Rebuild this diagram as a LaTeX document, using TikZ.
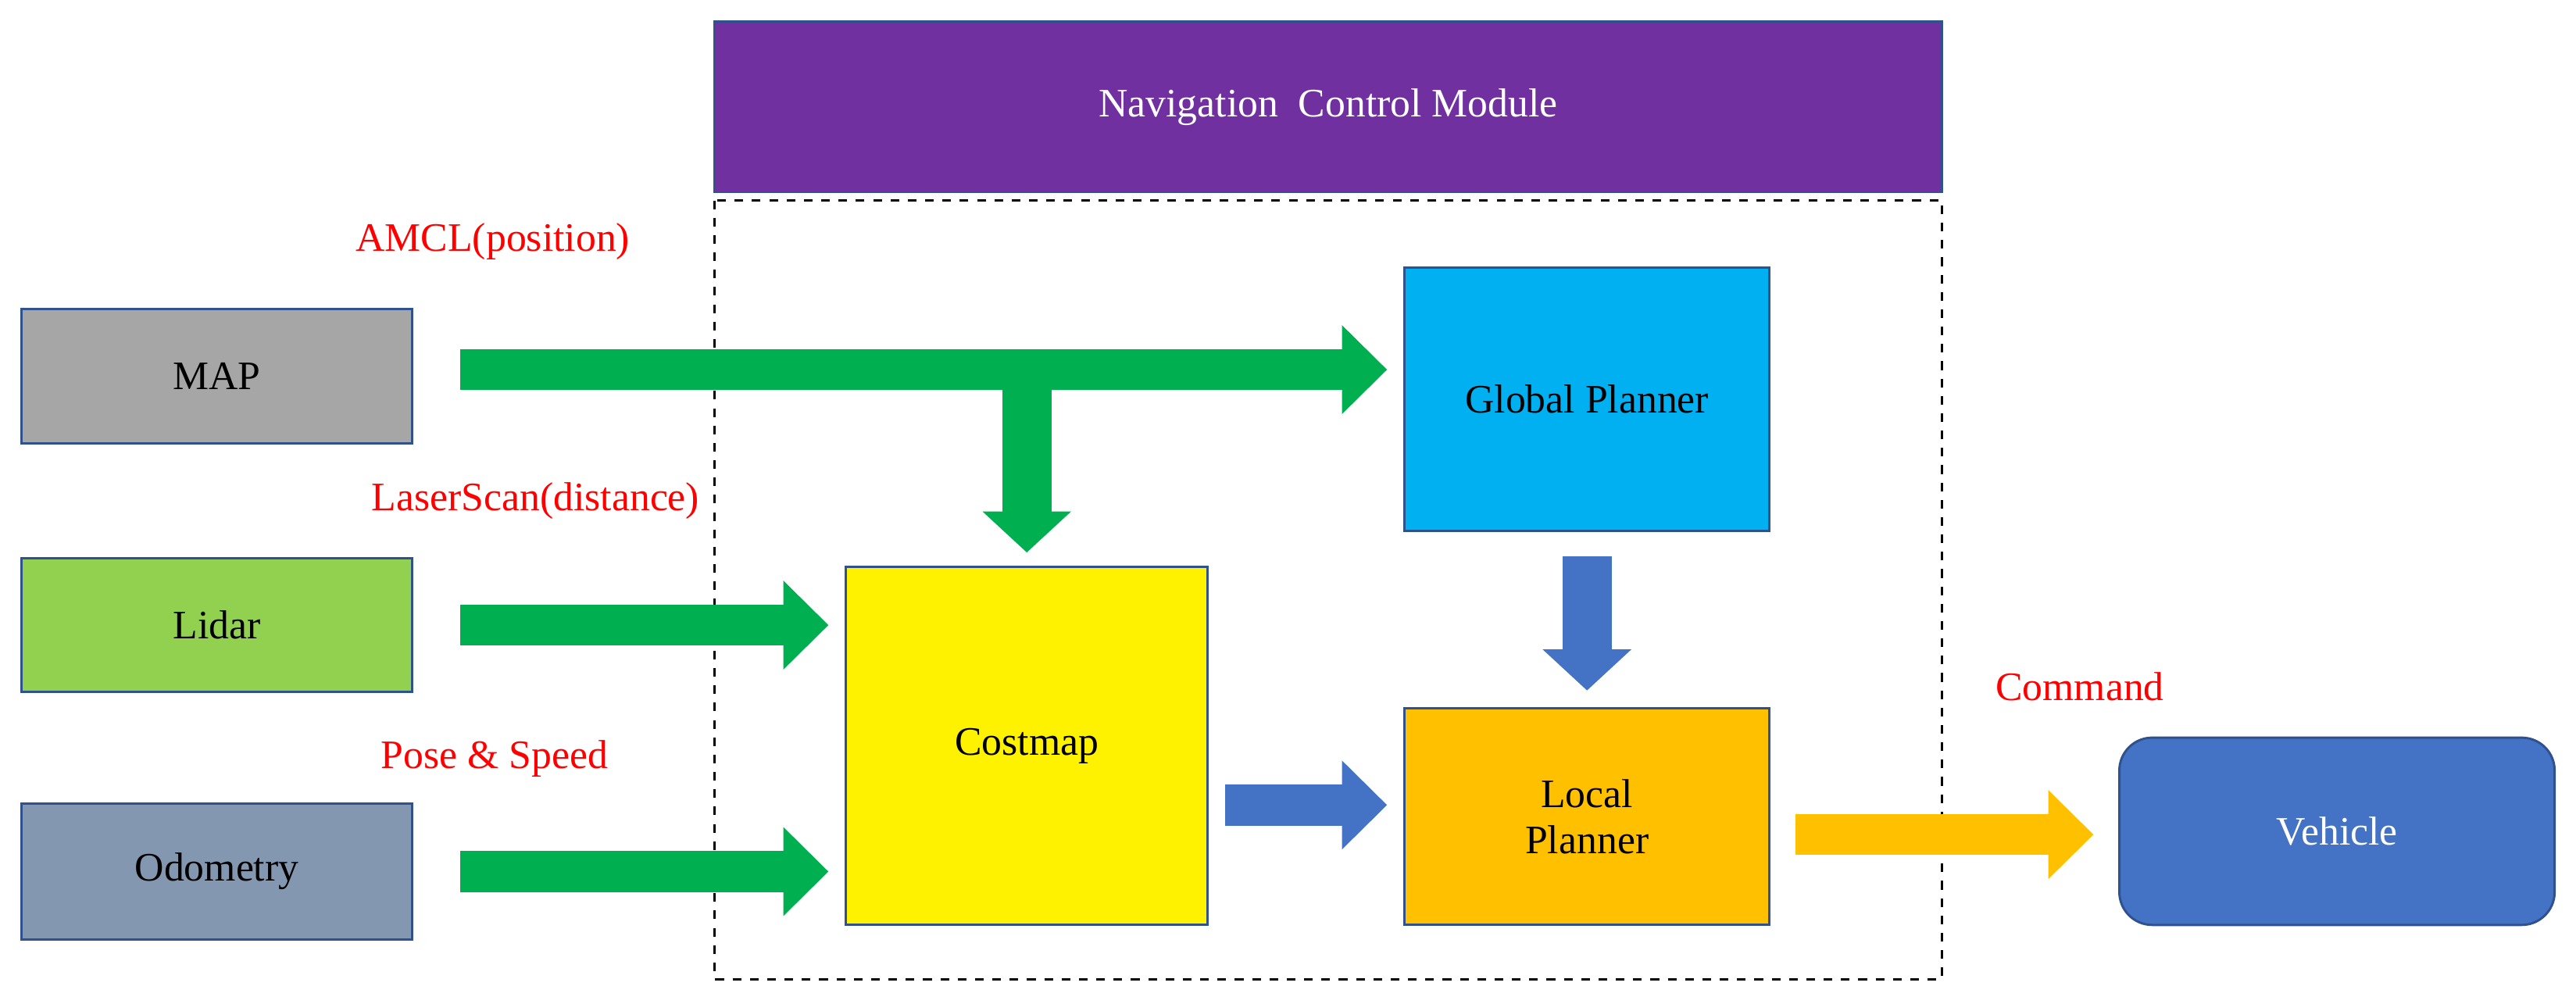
\documentclass[tikz,border=0pt]{standalone}
\usepackage{fontspec}
\setmainfont{Liberation Serif}
\usetikzlibrary{arrows.meta,positioning,calc}
\definecolor{navpurple}{HTML}{7030A0}
\definecolor{mapgray}{HTML}{A6A6A6}
\definecolor{lidargreen}{HTML}{92D050}
\definecolor{odomblue}{HTML}{8497B0}
\definecolor{globalblue}{HTML}{00B0F0}
\definecolor{localorange}{HTML}{FFC000}
\definecolor{vehblue}{HTML}{4472C4}
\definecolor{arrowgreen}{HTML}{00B050}
\definecolor{edgeblue}{HTML}{2F528F}
\begin{document}
\begin{tikzpicture}[x=0.02cm,y=-0.02cm]
    \tikzstyle{every node}=[font=\fontsize{14}{16}\selectfont]
    \tikzstyle{block}=[draw=edgeblue,line width=0.8pt,inner sep=0pt,align=center]
    \tikzstyle{lbl}=[text=red]
    \tikzstyle{fat}=[line width=0.5cm,-{Triangle[length=0.55cm,width=1.05cm]}]
    \tikzstyle{fatv}=[line width=0.6cm,-{Triangle[length=0.5cm,width=1.05cm]}]
    \useasboundingbox (0,0) rectangle (1568,611);

% Module
\node[block,fill=navpurple,text=white,minimum width=14.94cm,minimum height=2.08cm] (nav) at (808.5,65) {Navigation\ \ Control Module};
\draw[dashed,line width=0.8pt] (435,122) rectangle (1182,596);

% Entrees
\node[block,fill=mapgray,minimum width=4.76cm,minimum height=1.64cm] (map) at (132,229) {MAP};
\node[block,fill=lidargreen,minimum width=4.76cm,minimum height=1.62cm] (lidar) at (132,380.5) {Lidar};
\node[block,fill=odomblue,minimum width=4.76cm,minimum height=1.66cm] (odom) at (132,530.5) {Odometry};

% Planners
\node[block,fill=globalblue,minimum width=4.44cm,minimum height=3.2cm] (global) at (966,243) {Global Planner};
\node[block,fill=yellow,minimum width=4.4cm,minimum height=4.36cm] (cost) at (625,454) {Costmap};
\node[block,fill=localorange,minimum width=4.44cm,minimum height=2.64cm] (local) at (966,497) {Local\\Planner};
\node[block,fill=vehblue,text=white,rounded corners=0.4cm,minimum width=5.3cm,minimum height=2.28cm] (veh) at (1422.5,506) {Vehicle};

% Etiquettes
\node[lbl] (amcl) at (300,147) {AMCL(position)};
\node[lbl] (laser) at (326,305) {LaserScan(distance)};
\node[lbl] (pose) at (301,462) {Pose \& Speed};
\node[lbl] (cmd) at (1266,418) {Command};

% Fleches
\coordinate (m1) at (280,225);
\coordinate (j) at (625,225);
\draw[fat,draw=arrowgreen] (m1) -- ($(global.west |- m1)+(-10,0)$);
\draw[fatv,draw=arrowgreen] ($(j)+(0,-12)$) -- ($(cost.north)+(0,-8)$);
\draw[fat,draw=arrowgreen] (lidar.east -| m1) -- ($(cost.west |- lidar.east)+(-10,0)$);
\draw[fat,draw=arrowgreen] (odom.east -| m1) -- ($(cost.west |- odom.east)+(-10,0)$);
\draw[fatv,draw=vehblue] ($(global.south)+(0,15)$) -- ($(local.north)+(0,-10)$);
\draw[fat,draw=vehblue] ($(cost.east)+(10,36)$) -- ($(local.west)+(-10,-7)$);
\draw[fat,draw=localorange] ($(local.east)+(15,11)$) -- ($(veh.west)+(-15,2)$);
\end{tikzpicture}
\end{document}
